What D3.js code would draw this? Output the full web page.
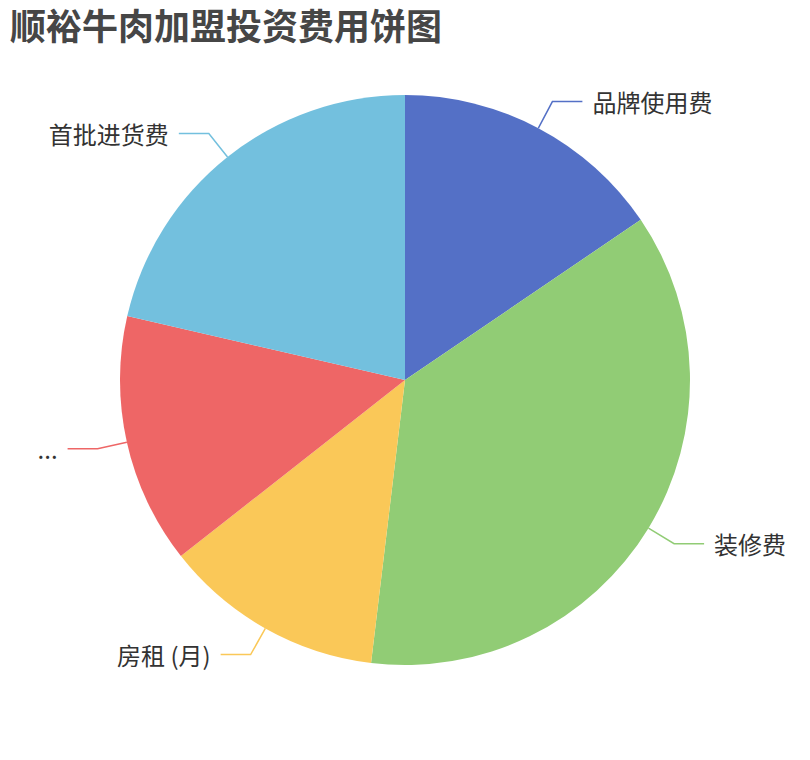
<!DOCTYPE html>
<html>
<head>
<meta charset="utf-8">
<script src="https://cdn.jsdelivr.net/npm/d3@7"></script>
<style>
  html,body{margin:0;padding:0;background:#fff;}
  #chart{width:810px;height:760px;}
</style>
</head>
<body>
<div id="chart"></div>
<script>
const title = "顺裕牛肉加盟投资费用饼图";
const names = ["品牌使用费", "装修费", "房租 (月)", "...", "首批进货费"];
const values = [15.5, 36.4, 12.5, 14.2, 21.4];
const colors = ["#5470c6", "#91cc75", "#fac858", "#ee6666", "#73c0de"];

(function(){
  const W = 810, H = 760;
  const cx = 405, cy = 380, R = 285;
  const len1 = 30, len2 = 30, gap = 10;

  const svg = d3.select("#chart").append("svg")
      .attr("width", W).attr("height", H)
      .style("font-family", "'Noto Sans CJK SC','Noto Sans',sans-serif");

  svg.append("text")
    .attr("x", 10).attr("y", 24)
    .attr("dominant-baseline", "central")
    .attr("fill", "#464646")
    .attr("font-size", 36)
    .attr("font-weight", "bold")
    .text(title);

  const data = names.map((n, i) => ({name: n, value: values[i], color: colors[i]}));
  const pie = d3.pie().sort(null).value(d => d.value);
  const arcs = pie(data);
  const arc = d3.arc().innerRadius(0).outerRadius(R);

  const g = svg.append("g").attr("transform", `translate(${cx},${cy})`);

  g.selectAll("path.slice")
    .data(arcs)
    .join("path")
    .attr("class", "slice")
    .attr("fill", d => d.data.color)
    .attr("d", arc);

  // label lines
  const pts = d => {
    const a = (d.startAngle + d.endAngle) / 2;
    const sx = Math.sin(a), sy = -Math.cos(a);
    const p0 = [R * sx, R * sy];
    const p1 = [(R + len1) * sx, (R + len1) * sy];
    const dir = sx >= 0 ? 1 : -1;
    const p2 = [p1[0] + dir * len2, p1[1]];
    return {p0, p1, p2, dir};
  };

  g.selectAll("polyline.line")
    .data(arcs)
    .join("polyline")
    .attr("class", "line")
    .attr("fill", "none")
    .attr("stroke", d => d.data.color)
    .attr("stroke-width", 1.5)
    .attr("points", d => { const p = pts(d); return [p.p0, p.p1, p.p2].map(q => q.join(",")).join(" "); });

  g.selectAll("text.label")
    .data(arcs)
    .join("text")
    .attr("class", "label")
    .attr("x", d => { const p = pts(d); return p.p2[0] + p.dir * gap; })
    .attr("y", d => pts(d).p2[1])
    .attr("text-anchor", d => pts(d).dir > 0 ? "start" : "end")
    .attr("dominant-baseline", "central")
    .attr("font-size", 24)
    .attr("fill", "#333")
    .text(d => d.data.name);
})();
</script>
</body>
</html>
